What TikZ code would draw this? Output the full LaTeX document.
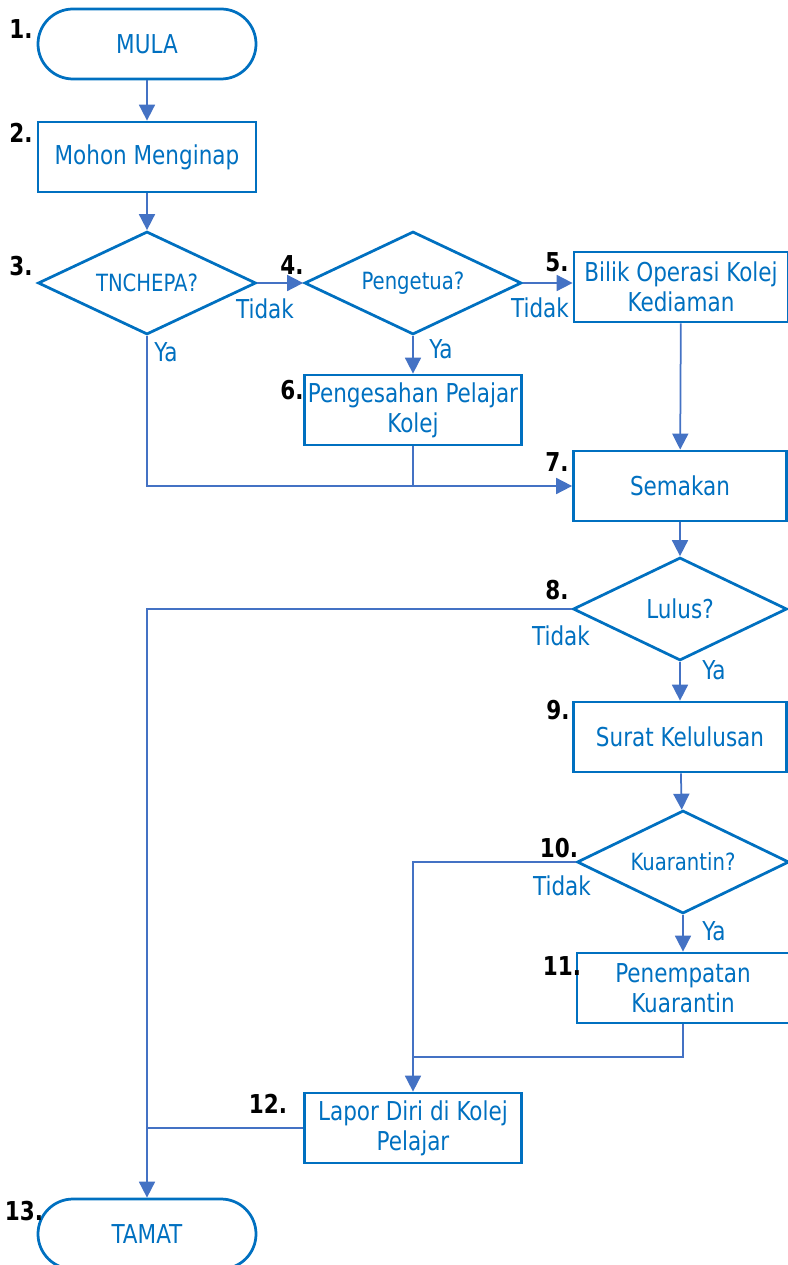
\documentclass[tikz,border=0pt]{standalone}
\usepackage{fontspec}
\setmainfont[FakeStretch=0.92]{DejaVu Sans Condensed}
\usetikzlibrary{arrows.meta,shapes.geometric,calc}
\definecolor{boxblue}{HTML}{0070C0}
\definecolor{linkblue}{HTML}{4472C4}
\tikzset{>={Triangle[length=3.2mm,width=3.2mm]}}
\tikzstyle{proc}=[rectangle,draw=boxblue,line width=0.55mm,text=boxblue,minimum width=43.6mm,minimum height=14mm,align=center,inner sep=0pt,font=\fontsize{14.8}{17}\selectfont]
\tikzstyle{term}=[proc,rounded corners=7mm]
\tikzstyle{choice}=[diamond,aspect=2.1,draw=boxblue,line width=0.55mm,text=boxblue,minimum width=43.6mm,minimum height=20.6mm,inner sep=0pt,font=\fontsize{13.5}{15}\selectfont]
\tikzstyle{num}=[text=black,inner sep=0pt,font=\fontsize{14.8}{15}\selectfont\bfseries]
\tikzstyle{ans}=[text=boxblue,inner sep=0pt,font=\fontsize{14.8}{15}\selectfont]
\tikzstyle{link}=[draw=linkblue,line width=0.35mm]

\begin{document}
\begin{tikzpicture}[x=0.2mm,y=-0.2mm]
\useasboundingbox (0,0) rectangle (787,1265);

\node[term] (mula) at (147,44) {MULA};
\node[proc] (mohon) at (147,157) {Mohon Menginap};
\node[choice] (tnchepa) at (147,283) {TNCHEPA?};
\node[choice,minimum width=43.4mm] (pengetua) at (413,283) {Pengetua?};
\node[proc,minimum width=42.8mm] (bilik) at (681,287) {Bilik Operasi Kolej\\Kediaman};
\node[proc,minimum width=43.4mm] (sah) at (413,410) {Pengesahan Pelajar\\Kolej};
\node[proc,minimum width=42.6mm] (semak) at (680,486) {Semakan};
\node[choice,minimum width=42.8mm,font=\fontsize{14.8}{15}\selectfont] (lulus) at (680,609) {Lulus?};
\node[proc,minimum width=42.6mm] (surat) at (680,737) {Surat Kelulusan};
\node[choice,minimum width=42.4mm] (kuar) at (683,862) {Kuarantin?};
\node[proc,minimum width=42.4mm] (tempat) at (683,988) {Penempatan\\Kuarantin};
\node[proc,minimum width=43.4mm] (lapor) at (413,1128) {Lapor Diri di Kolej\\Pelajar};
\node[term] (tamat) at (147,1234) {TAMAT};

\foreach \n/\px/\py in {1/21/29,2/21/133,3/21/266,4/292/265,5/557/262,6/292/390,7/557/462,
    8/557/590,9/558/710,10/559/848,11/562/966,12/268/1104,13/24/1211} {
	\node[num] (no\n) at (\px,\py) {\n.};
};

\foreach \t/\px/\py [count=\i] in {Tidak/265/309,Ya/166/352,Tidak/540/308,Ya/441/349,
    Tidak/561/636,Ya/714/670,Tidak/562/886,Ya/714/931} {
	\node[ans] (ans\i) at (\px,\py) {\t};
};

\draw[link,->] (mula) -- (mohon);
\draw[link,->] (mohon) -- (tnchepa);
\draw[link,->] (tnchepa.east) -- (pengetua.west);
\draw[link,->] (pengetua.east) -- (pengetua.east -| bilik.west);
\draw[link,->] (pengetua) -- (sah);
\draw[link,->] (tnchepa.south) |- (semak.west);
\draw[link] (sah.south) -- (sah.south |- semak.west);
\draw[link,->] (bilik) -- (semak);
\draw[link,->] (semak) -- (lulus);
\draw[link,->] (lulus.west) -| (tamat.north);
\draw[link,->] (lulus) -- (surat);
\draw[link,->] (surat) -- (kuar);
\draw[link,->] (kuar.west) -| (lapor.north);
\draw[link,->] (kuar) -- (tempat);
\coordinate (joint) at ($(lapor.north)+(0,-35)$);
\draw[link] (tempat.south) |- (joint);
\draw[link] (lapor.west) -- (lapor.west -| tamat.north);

\end{tikzpicture}
\end{document}
